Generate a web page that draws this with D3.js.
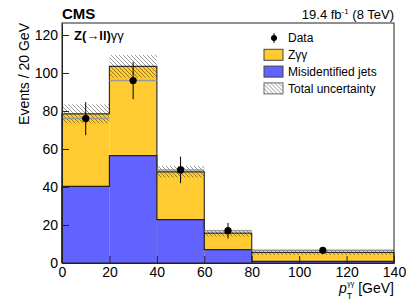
<!DOCTYPE html>
<html>
<head>
<meta charset="utf-8">
<script src="https://cdn.jsdelivr.net/npm/d3@7"></script>
<style>
  body { margin: 0; background: #fff; }
  text { font-family: "Liberation Sans", Arial, Helvetica, sans-serif; }
</style>
</head>
<body>
<div class="visualization"></div>
<script>
// bins in pT(gamma gamma), GeV
const binEdges = [0, 20, 40, 60, 80, 140];
const misidJets = [40.3, 56.5, 22.8, 7.0, 0.9];
const zgg = [38.2, 47.0, 25.2, 8.7, 4.7];
const totalUnc = [5.0, 6.0, 3.0, 1.8, 1.4];
const dataCenters = [10, 30, 50, 70, 110];
const dataValues = [76, 96, 49, 17, 6.67];
const dataErrors = [8.7, 9.8, 7.0, 4.1, 1.5];
const xTicks = [0, 20, 40, 60, 80, 100, 120, 140];
const yTicks = [0, 20, 40, 60, 80, 100, 120];

const width = 415, height = 303;
const margin = {top: 23, left: 62, right: 21, bottom: 40};
const yellow = '#ffcb30', blue = '#6262ff';

const svg = d3.select('.visualization').append('svg')
    .attr('width', width)
    .attr('height', height);

const defs = svg.append('defs');
const pat = defs.append('pattern')
    .attr('id', 'hatch')
    .attr('patternUnits', 'userSpaceOnUse')
    .attr('width', 4).attr('height', 4);
pat.append('path')
    .attr('d', 'M-1,-1 L5,5 M-1,3 L1,5 M3,-1 L5,1')
    .attr('stroke', 'rgba(0,0,0,0.5)')
    .attr('stroke-width', 0.8);

const x = d3.scaleLinear().domain([0, 140]).range([margin.left, width - margin.right]);
const y = d3.scaleLinear().domain([0, 126.3]).range([height - margin.bottom, margin.top]);

const bins = binEdges.slice(0, -1).map((lo, i) => ({
    lo: lo, hi: binEdges[i + 1],
    jets: misidJets[i],
    total: misidJets[i] + zgg[i],
    unc: totalUnc[i],
    data: dataValues[i]
}));

const plot = svg.append('g');

// stacked fills
plot.selectAll('.zgg').data(bins).enter().append('rect')
    .attr('x', d => x(d.lo)).attr('width', d => x(d.hi) - x(d.lo))
    .attr('y', d => y(d.total)).attr('height', d => y(0) - y(d.total))
    .attr('fill', yellow);
plot.selectAll('.jets').data(bins).enter().append('rect')
    .attr('x', d => x(d.lo)).attr('width', d => x(d.hi) - x(d.lo))
    .attr('y', d => y(d.jets)).attr('height', d => y(0) - y(d.jets))
    .attr('fill', blue);

// step outlines
function stepPath(vals) {
    let p = `M${x(binEdges[0])},${y(0)}`;
    vals.forEach((v, i) => {
        p += `L${x(binEdges[i])},${y(v)}L${x(binEdges[i + 1])},${y(v)}`;
    });
    p += `L${x(binEdges[binEdges.length - 1])},${y(0)}`;
    return p;
}
plot.append('path').attr('d', stepPath(bins.map(d => d.jets)))
    .attr('fill', 'none').attr('stroke', '#222').attr('stroke-width', 1.2);
plot.append('path').attr('d', stepPath(bins.map(d => d.total)))
    .attr('fill', 'none').attr('stroke', '#333').attr('stroke-width', 1.2);

// uncertainty band
plot.selectAll('.unc').data(bins).enter().append('rect')
    .attr('x', d => x(d.lo)).attr('width', d => x(d.hi) - x(d.lo))
    .attr('y', d => y(d.total + d.unc)).attr('height', d => y(d.total - d.unc) - y(d.total + d.unc))
    .attr('fill', 'url(#hatch)');
plot.selectAll('.dline').data(bins).enter().append('line')
    .attr('x1', d => x(d.lo)).attr('x2', d => x(d.hi))
    .attr('y1', d => y(d.data)).attr('y2', d => y(d.data))
    .attr('stroke', '#999').attr('stroke-width', 1.5);

// data points
const pts = dataCenters.map((c, i) => ({c: c, v: dataValues[i], e: dataErrors[i]}));
plot.selectAll('.err').data(pts).enter().append('line')
    .attr('x1', d => x(d.c)).attr('x2', d => x(d.c))
    .attr('y1', d => y(d.v - d.e)).attr('y2', d => y(d.v + d.e))
    .attr('stroke', '#000').attr('stroke-width', 1);
plot.selectAll('.pt').data(pts).enter().append('circle')
    .attr('cx', d => x(d.c)).attr('cy', d => y(d.v)).attr('r', 3.6)
    .attr('fill', '#000');

// frame
svg.append('rect')
    .attr('x', margin.left).attr('y', margin.top)
    .attr('width', width - margin.left - margin.right)
    .attr('height', height - margin.top - margin.bottom)
    .attr('fill', 'none').attr('stroke', '#222').attr('stroke-width', 1);

// axes
const xAxis = svg.append('g')
    .attr('transform', `translate(0,${y(0)})`)
    .call(d3.axisBottom(x).tickValues(xTicks).tickSizeInner(-7).tickSizeOuter(0).tickPadding(3));
const yAxis = svg.append('g')
    .attr('transform', `translate(${x(0)},0)`)
    .call(d3.axisLeft(y).tickValues(yTicks).tickSizeInner(-7).tickSizeOuter(0).tickPadding(4));
[xAxis, yAxis].forEach(a => {
    a.select('.domain').attr('stroke', '#222');
    a.selectAll('.tick line').attr('stroke', '#222');
    a.selectAll('.tick text').attr('fill', '#000')
        .style('font-size', '14px')
        .style('font-family', '"Liberation Sans", Arial, sans-serif');
});
xAxis.selectAll('.tick text').attr('dy', '0.78em');

// titles
svg.append('text')
    .attr('transform', `translate(29,${margin.top}) rotate(-90)`)
    .attr('text-anchor', 'end')
    .style('font-size', '14px')
    .text('Events / 20 GeV');

const xt = svg.append('text')
    .attr('x', x(140)).attr('y', 293)
    .attr('text-anchor', 'end')
    .style('font-size', '14px');
xt.append('tspan').style('font-style', 'italic').text('p');
xt.append('tspan').attr('dy', 6).style('font-size', '9px').text('T');
xt.append('tspan').attr('dy', -13).attr('dx', -5).style('font-size', '7px').text('γγ');
xt.append('tspan').attr('dy', 7).text(' [GeV]');

svg.append('text')
    .attr('x', margin.left).attr('y', 19)
    .style('font-size', '15px').style('font-weight', 'bold')
    .text('CMS');

const lumi = svg.append('text')
    .attr('x', x(140)).attr('y', 19)
    .attr('text-anchor', 'end')
    .style('font-size', '13px');
lumi.append('tspan').text('19.4 fb');
lumi.append('tspan').attr('dy', -5).style('font-size', '8px').text('-1');
lumi.append('tspan').attr('dy', 5).text(' (8 TeV)');

const proc = svg.append('text')
    .attr('x', 74).attr('y', 40)
    .style('font-size', '13px');
proc.append('tspan').style('font-weight', 'bold').text('Z(→ll)');
proc.append('tspan').text('γγ');

// legend
const legendItems = [
    {label: 'Data', kind: 'data'},
    {label: 'Zγγ', kind: 'fill', color: yellow},
    {label: 'Misidentified jets', kind: 'fill', color: blue},
    {label: 'Total uncertainty', kind: 'hatch'}
];
const leg = svg.append('g').attr('transform', 'translate(264,38)');
legendItems.forEach((it, i) => {
    const g = leg.append('g').attr('transform', `translate(0,${i * 16.8})`);
    if (it.kind === 'data') {
        g.append('line').attr('x1', 10).attr('x2', 10).attr('y1', -5).attr('y2', 5)
            .attr('stroke', '#000');
        g.append('circle').attr('cx', 10).attr('cy', 0).attr('r', 3).attr('fill', '#000');
    } else {
        g.append('rect').attr('x', 0).attr('y', -5.5).attr('width', 19).attr('height', 11)
            .attr('fill', it.kind === 'fill' ? it.color : 'url(#hatch)')
            .attr('stroke', it.kind === 'fill' ? '#444' : '#666').attr('stroke-width', 1);
    }
    g.append('text').attr('x', 24).attr('y', 0).attr('dy', '0.35em')
        .style('font-size', '12px').text(it.label);
});
</script>
</body>
</html>
